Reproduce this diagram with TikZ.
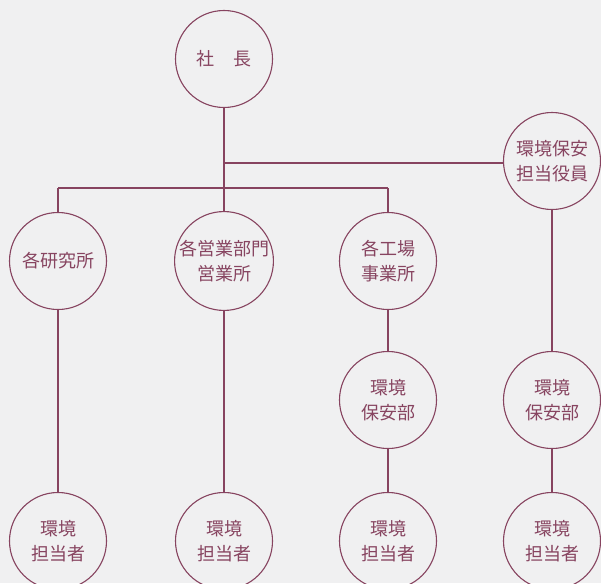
\documentclass[tikz,border=0pt]{standalone}
\usepackage{fontspec}
\newfontfamily\jp{Noto Sans CJK JP}
\definecolor{ln}{RGB}{135,68,96}
\definecolor{bg}{RGB}{240,240,241}
\begin{document}
\begin{tikzpicture}[x=1pt,y=-1pt,
  org/.style={circle,draw=ln,line width=1.1pt,minimum size=97pt,inner sep=0pt,align=center,text=ln,font=\jp\fontsize{18}{24.5}\selectfont},
  conn/.style={draw=ln,line width=1.1pt}]
\fill[bg] (0,0) rectangle (601,583);
\useasboundingbox (0,0) rectangle (601,583);
\node[org] (ceo) at (224,59) {社\hspace{1.1em}長};
\node[org] (officer) at (552,161) {環境保安\\担当役員};
\node[org] (lab) at (58,261) {各研究所};
\node[org] (sales) at (224,261) {各営業部門\\営業所};
\node[org] (fac) at (388,261) {各工場\\事業所};
\node[org] (sec1) at (388,400) {環境\\保安部};
\node[org] (sec2) at (552,400) {環境\\保安部};
\node[org] (p1) at (58,541) {環境\\担当者};
\node[org] (p2) at (224,541) {環境\\担当者};
\node[org] (p3) at (388,541) {環境\\担当者};
\node[org] (p4) at (552,541) {環境\\担当者};
\coordinate (j1) at (224,163);
\coordinate (jl) at (58,188);
\coordinate (jr) at (388,188);
\draw[conn] (ceo.south) -- (sales.north);
\draw[conn] (j1) -- (j1 -| officer.west);
\draw[conn] (jl) -- (jr);
\draw[conn] (jl) -- (lab.north);
\draw[conn] (jr) -- (fac.north);
\draw[conn] (lab.south) -- (p1.north);
\draw[conn] (sales.south) -- (p2.north);
\draw[conn] (fac.south) -- (sec1.north);
\draw[conn] (sec1.south) -- (p3.north);
\draw[conn] (officer.south) -- (sec2.north);
\draw[conn] (sec2.south) -- (p4.north);
\end{tikzpicture}
\end{document}
